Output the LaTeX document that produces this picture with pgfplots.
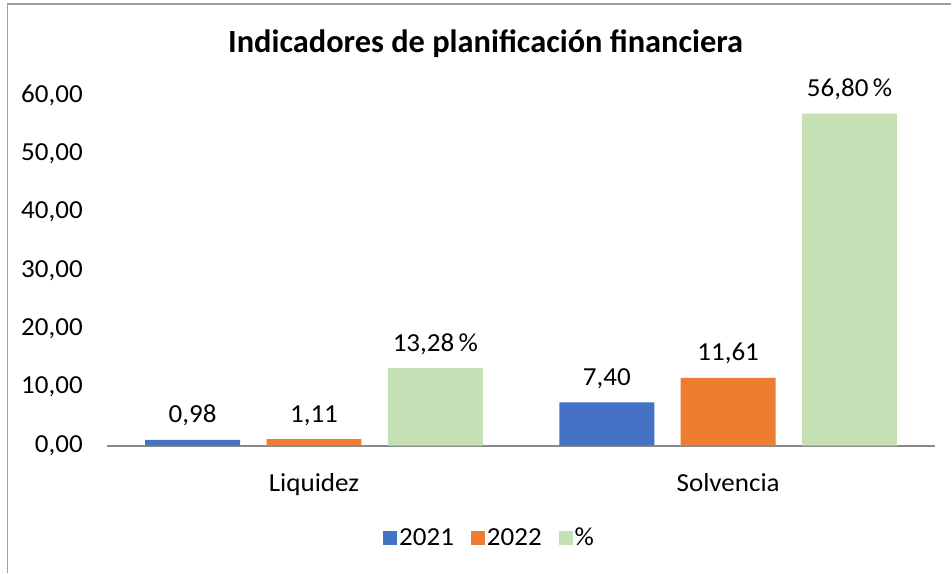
\documentclass[border=0pt]{standalone}
\usepackage{pgfplots}
\pgfplotsset{compat=1.18}
\usepackage{fontspec}
\setmainfont{Carlito}[FakeStretch=1.04]
\newfontfamily\titlefont{Carlito}
\definecolor{cA}{HTML}{4472C4}
\definecolor{cB}{HTML}{ED7D31}
\definecolor{cC}{HTML}{C5E0B4}
\definecolor{axg}{HTML}{898989}
\definecolor{brd}{HTML}{A0A0A0}
\pgfkeys{/pgf/number format/.cd, fixed, fixed zerofill, precision=2, use comma, assume math mode=true}
\begin{document}
\begin{tikzpicture}[x=1pt,y=1pt]
\path (0,0) rectangle (952,573);
\draw[color=brd, line width=1.6pt] (7.5,0) -- (7.5,569) -- (952,569);
\node[font=\titlefont\fontsize{32.4}{38}\selectfont\bfseries] at (486,529) {Indicadores de planificación financiera};
\begin{axis}[
  at={(107pt,127pt)}, anchor=south west,
  scale only axis, width=829pt, height=351pt,
  xmin=-0.5, xmax=1.5, ymin=0, ymax=60,
  axis lines*=left,
  y axis line style={draw=none},
  x axis line style={draw=axg, line width=2pt},
  tick style={draw=none},
  ytick={0,10,...,60},
  xtick={0,1}, xticklabels={Liquidez,Solvencia},
  yticklabel style={/pgf/number format/fixed, /pgf/number format/fixed zerofill, /pgf/number format/precision=2, /pgf/number format/use comma, /pgf/number format/assume math mode=true,
    anchor=east, inner sep=0pt, xshift=-24pt, font=\fontsize{26}{31}\selectfont},
  xticklabel style={anchor=base, inner sep=0pt, yshift=-42pt, font=\fontsize{26}{31}\selectfont},
  ybar, bar width=0.2292,
  clip=false,
  nodes near coords,
  every node near coord/.append style={anchor=base, inner sep=0pt, yshift=17pt, font=\fontsize{26}{31}\selectfont, text=black},
  legend style={at={(0.462,-0.262)}, anchor=center, draw=none, fill=none,
    font=\fontsize{26}{31}\selectfont, legend columns=3,
    /tikz/every even column/.append style={column sep=15pt},
    cells={anchor=west}},
  legend image code/.code={\path[#1, draw=none] (0pt,-7pt) rectangle (14pt,7pt);},
]
\addplot[fill=cA, draw=none, bar shift=-0.293] coordinates {(0,0.98) (1,7.40)};
\addplot[fill=cB, draw=none, bar shift=0] coordinates {(0,1.11) (1,11.61)};
\addplot[fill=cC, draw=none, bar shift=0.293,
  nodes near coords={\pgfmathprintnumber{\pgfplotspointmeta}\,\%}] coordinates {(0,13.28) (1,56.80)};
\legend{2021,2022,\%}
\end{axis}
\end{tikzpicture}
\end{document}
